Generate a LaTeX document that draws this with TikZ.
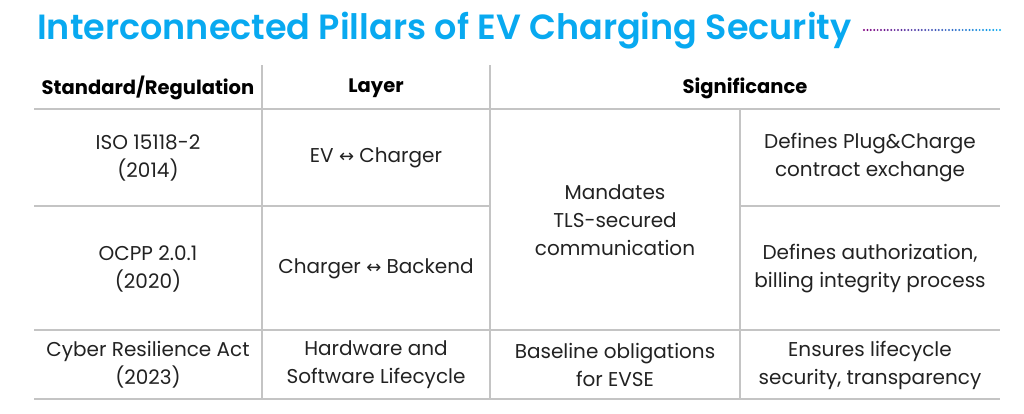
\documentclass[tikz,border=0pt]{standalone}
\usepackage{fontspec}
\usetikzlibrary{calc}
\setmainfont{Poppins}
\newfontfamily\titlefont{Poppins}[UprightFont=* SemiBold]
\newfontfamily\symfont{DejaVu Sans}
\definecolor{ttl}{HTML}{08A9F0}
\definecolor{grid}{HTML}{C4C4C4}
\definecolor{txt}{HTML}{222222}
\newcommand{\arr}{{\symfont\fontsize{18}{20}\selectfont ↔}}
\begin{document}
\begin{tikzpicture}[x=1pt,y=-1pt,
  cell/.style={align=center,font=\fontsize{20}{28}\selectfont,text=txt,inner sep=0},
  hd/.style={align=center,font=\fontsize{19.5}{22}\selectfont\bfseries,text=black,inner sep=0},
  gl/.style={draw=grid,line width=1.6pt}]
\useasboundingbox (0,0) rectangle (1024,413);
\node[anchor=west,text=ttl,font=\titlefont\fontsize{35}{38}\selectfont,inner sep=0] (title) at (37,31) {Interconnected Pillars of EV Charging Security};
\coordinate (d0) at (864,30);
\coordinate (d1) at (1000,30);
\foreach \i in {0,...,40}{
  \pgfmathsetmacro\t{\i/40*100}
  \fill[color={ttl!\t!violet}] ($(d0)!\i/40!(d1)$) circle (1.1);
}
% grid
\coordinate (h1) at (34,109); \coordinate (h2) at (1000,109);
\draw[gl,line width=2.4pt] (h1) -- (h2);
\coordinate (r1a) at (34,206); \coordinate (r1b) at (490,206);
\coordinate (r1c) at (740,206); \coordinate (r1d) at (1000,206);
\draw[gl] (r1a) -- (r1b) (r1c) -- (r1d);
\coordinate (r2a) at (34,330); \coordinate (r2b) at (1000,330);
\draw[gl] (r2a) -- (r2b);
\coordinate (r3a) at (34,399); \coordinate (r3b) at (1000,399);
\draw[gl] (r3a) -- (r3b);
\coordinate (v1a) at (262,65); \coordinate (v1b) at (262,399);
\coordinate (v2a) at (490,65); \coordinate (v2b) at (490,399);
\coordinate (v3a) at (740,109); \coordinate (v3b) at (740,399);
\draw[gl] (v1a)--(v1b) (v2a)--(v2b) (v3a)--(v3b);
% header
\node[hd] (hs) at (148,88) {Standard/Regulation};
\node[hd] (hl) at (376,88) {Layer};
\node[hd] (hg) at (745,88) {Significance};
% row1
\node[cell] (a1) at (148,158) {ISO 15118-2\\(2014)};
\node[cell] (b1) at (376,158) {EV \arr{} Charger};
\node[cell] (c12) at (615,220) {Mandates\\TLS-secured\\communication};
\node[cell] (d1n) at (870,158) {Defines Plug\&Charge\\contract exchange};
% row2
\node[cell] (a2) at (148,269) {OCPP 2.0.1\\(2020)};
\node[cell] (b2) at (376,269) {Charger \arr{} Backend};
\node[cell] (d2) at (870,269) {Defines authorization,\\billing integrity process};
% row3
\node[cell] (a3) at (148,365) {Cyber Resilience Act\\(2023)};
\node[cell] (b3) at (376,365) {Hardware and\\Software Lifecycle};
\node[cell] (c3) at (615,365) {Baseline obligations\\for EVSE};
\node[cell] (d3) at (870,365) {Ensures lifecycle\\security, transparency};
\end{tikzpicture}
\end{document}
